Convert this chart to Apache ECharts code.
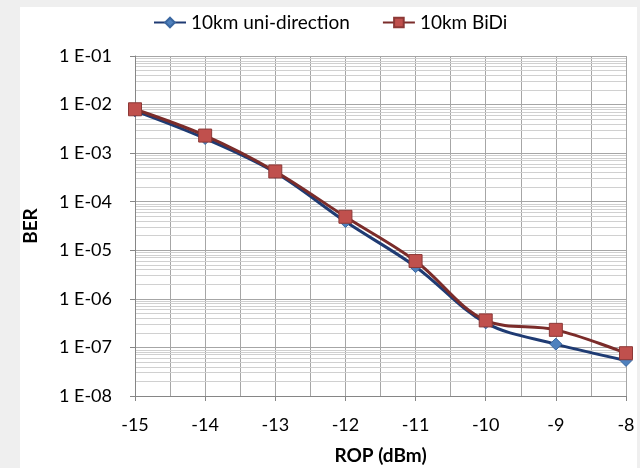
<!DOCTYPE html>
<html><head><meta charset="utf-8">
<script src="https://cdn.jsdelivr.net/npm/echarts@6/dist/echarts.min.js"></script>
<style>
html,body{margin:0;padding:0;background:#efefef;width:640px;height:468px;overflow:hidden;}
#c{position:absolute;left:20px;top:7px;width:617px;height:461px;background:#fff;}
</style></head>
<body><div id="c"></div>
<script>
const rop = [-15, -14, -13, -12, -11, -10, -9, -8];
const berUni = [7.4e-3, 2.0e-3, 4.0e-4, 3.9e-5, 4.6e-6, 3.2e-7, 1.17e-7, 5.4e-8];
const berBiDi = [8.0e-3, 2.3e-3, 4.2e-4, 4.9e-5, 6.0e-6, 3.6e-7, 2.3e-7, 7.6e-8];
const seriesNames = ['10km uni-direction', '10km BiDi'];
const decades = [-8, -7, -6, -5, -4, -3, -2];

// minor log gridlines (2..9 x 10^k), on a hidden linear axis in log10 space
const minorLines = [];
decades.forEach(k => { for (let m = 2; m <= 9; m++) minorLines.push({yAxis: k + Math.log10(m)}); });

const font = 'Lato, "Liberation Sans", sans-serif';
const chart = echarts.init(document.getElementById('c'), null, {renderer: 'canvas'});
chart.setOption({
  animation: false,
  backgroundColor: '#ffffff',
  textStyle: {fontFamily: font},
  grid: {left: 115, top: 49, right: 11, bottom: 72, containLabel: false, outerBoundsMode: 'none'},
  legend: {
    top: 1, left: 128, itemWidth: 32, itemHeight: 12, itemGap: 32,
    textStyle: {fontFamily: font, fontSize: 19, color: '#000'},
    data: seriesNames
  },
  xAxis: {
    type: 'value', min: -15, max: -8, interval: 1,
    name: 'ROP (dBm)', nameLocation: 'middle', nameGap: 50,
    nameTextStyle: {fontFamily: font, fontSize: 19, fontWeight: 'bold', color: '#000'},
    axisLine: {onZero: false, lineStyle: {color: '#868686'}},
    axisTick: {show: true, length: 5, inside: false, lineStyle: {color: '#868686'}},
    axisLabel: {fontFamily: font, fontSize: 18, color: '#000', margin: 20},
    splitLine: {show: true, lineStyle: {color: '#a6a6a6', width: 1}},
    minorTick: {show: false, splitNumber: 2},
    minorSplitLine: {show: true, lineStyle: {color: '#a6a6a6', width: 1}}
  },
  yAxis: [{
    type: 'log', logBase: 10, min: 1e-8, max: 1e-1, splitNumber: 7,
    name: 'BER', nameLocation: 'middle', nameGap: 95, nameRotate: 90,
    nameTextStyle: {fontFamily: font, fontSize: 19, fontWeight: 'bold', color: '#000'},
    axisLine: {show: true, lineStyle: {color: '#868686'}},
    axisTick: {show: true, length: 5, lineStyle: {color: '#868686'}},
    axisLabel: {
      fontFamily: font, fontSize: 18, color: '#000', margin: 23,
      formatter: v => { const e = Math.round(Math.log10(v)); const a = Math.abs(e); return '1 E' + (e < 0 ? '-' : '+') + (a < 10 ? '0' : '') + a; }
    },
    splitLine: {show: true, lineStyle: {color: '#a6a6a6', width: 1}}
  }, {
    type: 'value', min: -8, max: -1, show: false, splitLine: {show: false}
  }],
  series: [
    {
      name: 'grid', type: 'line', yAxisIndex: 1, data: [], silent: true, z: 0,
      markLine: {silent: true, z: 0, symbol: 'none', label: {show: false},
        lineStyle: {color: '#d0d0d0', width: 1, type: 'solid'}, data: minorLines, animation: false}
    },
    {
      name: seriesNames[0], type: 'line', smooth: 0.35, z: 3,
      data: rop.map((x, i) => [x, berUni[i]]),
      symbol: 'diamond', symbolSize: 12,
      lineStyle: {color: '#1f3b73', width: 3},
      itemStyle: {color: '#4f81bd', borderColor: '#3a67a0', borderWidth: 1}
    },
    {
      name: seriesNames[1], type: 'line', smooth: 0.35, z: 4,
      data: rop.map((x, i) => [x, berBiDi[i]]),
      symbol: 'rect', symbolSize: 13,
      lineStyle: {color: '#7b2c2a', width: 3},
      itemStyle: {color: '#c0504d', borderColor: '#8c3836', borderWidth: 1}
    }
  ]
});
</script></body></html>
